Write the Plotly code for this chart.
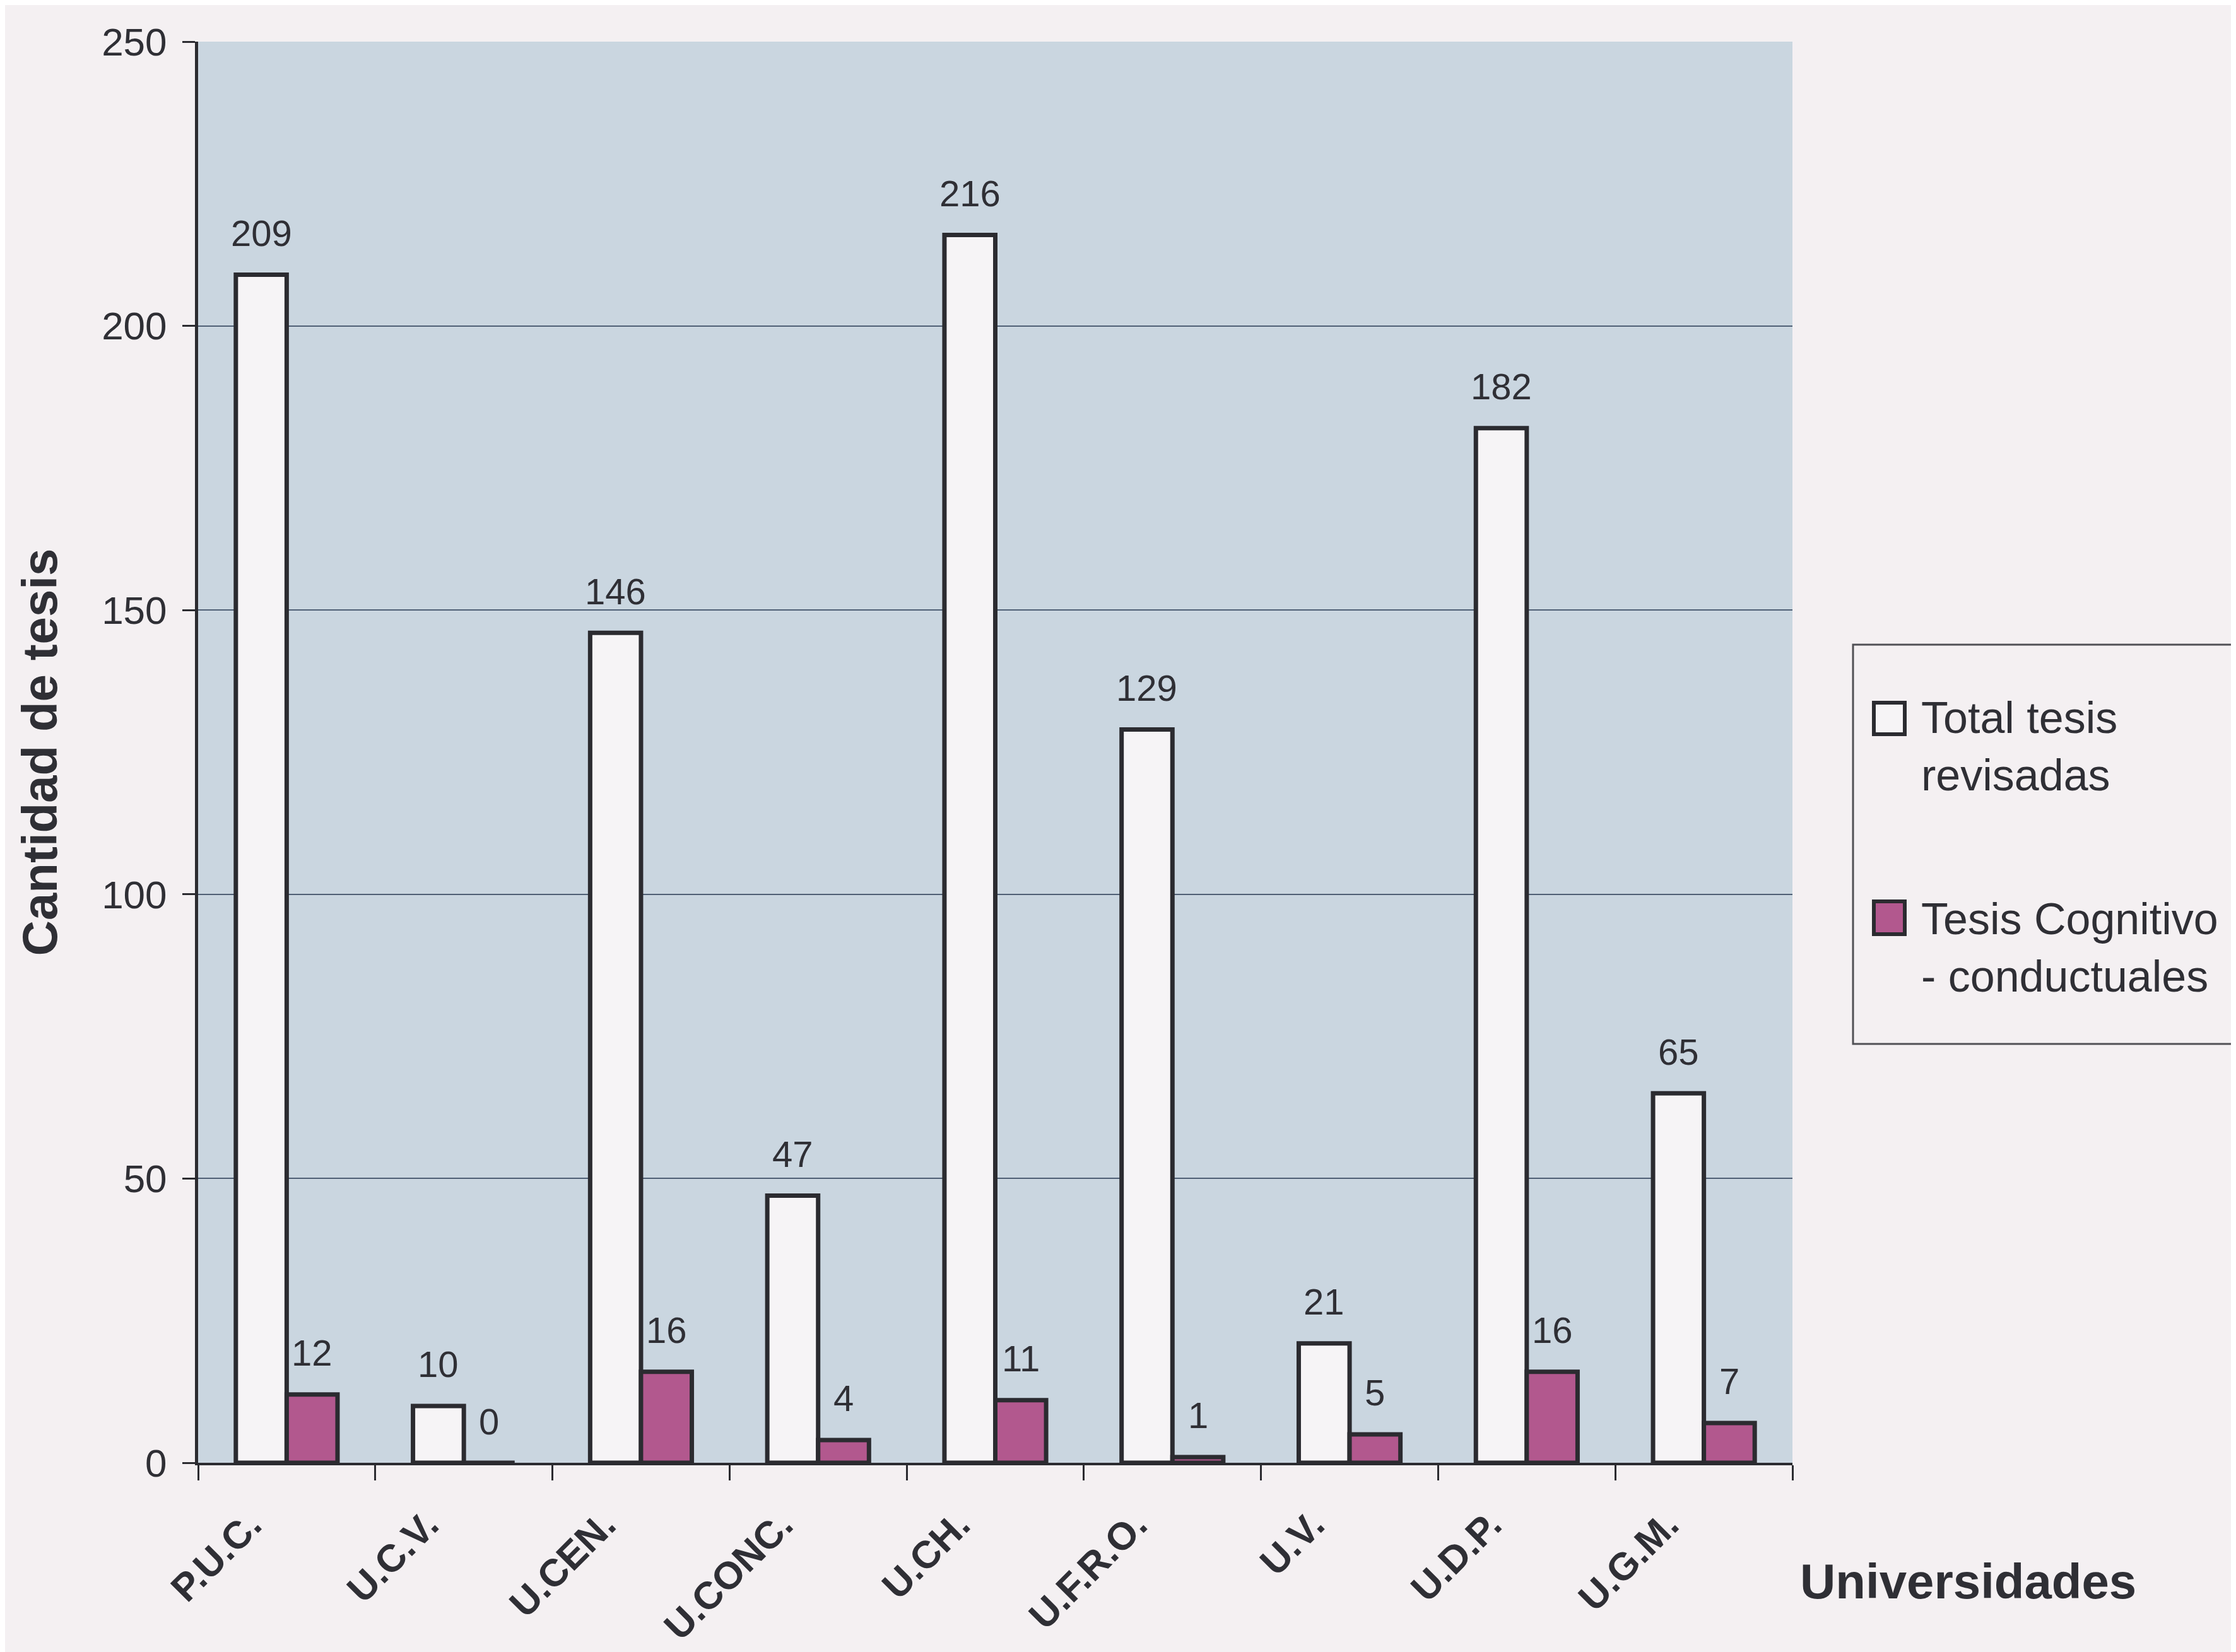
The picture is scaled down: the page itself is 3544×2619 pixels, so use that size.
import plotly.graph_objects as go

# ---------------- data ----------------
universidades = ["P.U.C.", "U.C.V.", "U.CEN.", "U.CONC.", "U.CH.", "U.F.R.O.", "U.V.", "U.D.P.", "U.G.M."]
total_tesis = [209, 10, 146, 47, 216, 129, 21, 182, 65]
tesis_cognitivo = [12, 0, 16, 4, 11, 1, 5, 16, 7]
y_ticks = [0, 50, 100, 150, 200, 250]

serie_total = "Total tesis<br>revisadas"
serie_cog = "Tesis Cognitivo<br>- conductuales"

# ---------------- styles / layout constants ----------------
W, H = 3544, 2619
M_L, M_R, M_T, M_B = 306, 711, 58, 308
PW = W - M_L - M_R
PH = H - M_T - M_B

FONT = "Liberation Sans, Arial, sans-serif"
TXT = "#2f2f35"
EDGE = "#2b2b30"
PAPER = "#f4f0f2"
PLOTBG = "#cad6e0"
WHITE_BAR = "#f6f4f6"
PINK_BAR = "#b2588e"
GRID = "#4f5f75"

BARGAP = 0.426
cat_px = PW / len(universidades)
half_bar = (1 - BARGAP) / 2 * cat_px / 2


def px_x(px):
    return (px - M_L) / PW


def px_y(py):
    return (H - M_B - py) / PH


fig = go.Figure()
fig.add_trace(go.Bar(
    x=universidades, y=total_tesis, name=serie_total,
    marker=dict(color=WHITE_BAR, line=dict(color=EDGE, width=7)),
    showlegend=False,
))
fig.add_trace(go.Bar(
    x=universidades, y=tesis_cognitivo, name=serie_cog,
    marker=dict(color=PINK_BAR, line=dict(color=EDGE, width=7)),
    showlegend=False,
))

annotations = []
for cat, v in zip(universidades, total_tesis):
    annotations.append(dict(x=cat, y=v, xref="x", yref="y", text=str(v), showarrow=False,
                            xshift=-half_bar, yshift=66, yanchor="middle",
                            font=dict(family=FONT, size=58, color=TXT)))
for cat, v in zip(universidades, tesis_cognitivo):
    annotations.append(dict(x=cat, y=v, xref="x", yref="y", text=str(v), showarrow=False,
                            xshift=half_bar, yshift=66, yanchor="middle",
                            font=dict(family=FONT, size=58, color=TXT)))

# x-axis title placed to the right of the axis (as in the original)
annotations.append(dict(x=px_x(2843), y=px_y(2499), xref="paper", yref="paper",
                        text="<b>Universidades</b>", showarrow=False,
                        xanchor="left", yanchor="middle",
                        font=dict(family=FONT, size=78, color=TXT)))

# legend (drawn manually to reproduce the large symbols)
annotations.append(dict(x=px_x(3035), y=px_y(1175), xref="paper", yref="paper",
                        text=serie_total, showarrow=False, align="left",
                        xanchor="left", yanchor="middle",
                        font=dict(family=FONT, size=70, color=TXT)))
annotations.append(dict(x=px_x(3035), y=px_y(1494), xref="paper", yref="paper",
                        text=serie_cog, showarrow=False, align="left",
                        xanchor="left", yanchor="middle",
                        font=dict(family=FONT, size=70, color=TXT)))

shapes = [
    dict(type="rect", xref="paper", yref="paper",
         x0=px_x(2929), x1=px_x(3560), y0=px_y(1647), y1=px_y(1014),
         line=dict(color="#505055", width=3), fillcolor="rgba(0,0,0,0)", layer="above"),
    dict(type="rect", xref="paper", yref="paper",
         x0=px_x(2962), x1=px_x(3011), y0=px_y(1156), y1=px_y(1106),
         line=dict(color=EDGE, width=6), fillcolor=WHITE_BAR, layer="above"),
    dict(type="rect", xref="paper", yref="paper",
         x0=px_x(2962), x1=px_x(3011), y0=px_y(1473), y1=px_y(1421),
         line=dict(color=EDGE, width=6), fillcolor=PINK_BAR, layer="above"),
]

fig.update_layout(
    width=W, height=H,
    margin=dict(l=M_L, r=M_R, t=M_T, b=M_B, autoexpand=False),
    paper_bgcolor=PAPER, plot_bgcolor=PLOTBG,
    barmode="group", bargap=BARGAP, bargroupgap=0,
    font=dict(family=FONT, color=TXT),
    annotations=annotations, shapes=shapes,
    showlegend=False,
)
fig.update_xaxes(
    type="category", tickson="boundaries",
    ticks="outside", ticklen=24, tickwidth=3, tickcolor=EDGE,
    showline=True, linecolor=EDGE, linewidth=4,
    showgrid=False, tickangle=-45,
    ticklabelshift=-58, ticklabelstandoff=34,
    tickfont=dict(family=FONT, size=61, color=TXT),
    tickprefix="<b>", ticksuffix="</b>",
)
fig.update_yaxes(
    range=[0, 250], tickvals=y_ticks, ticks="outside", ticklen=20, tickwidth=3,
    tickcolor=EDGE, showline=True, linecolor=EDGE, linewidth=5,
    showgrid=True, gridcolor=GRID, gridwidth=2, zeroline=False,
    ticklabelstandoff=12,
    tickfont=dict(family=FONT, size=62, color=TXT),
    title=dict(text="<b>Cantidad de tesis</b>", standoff=46,
               font=dict(family=FONT, size=78, color=TXT)),
)

fig.write_html("out.html")
